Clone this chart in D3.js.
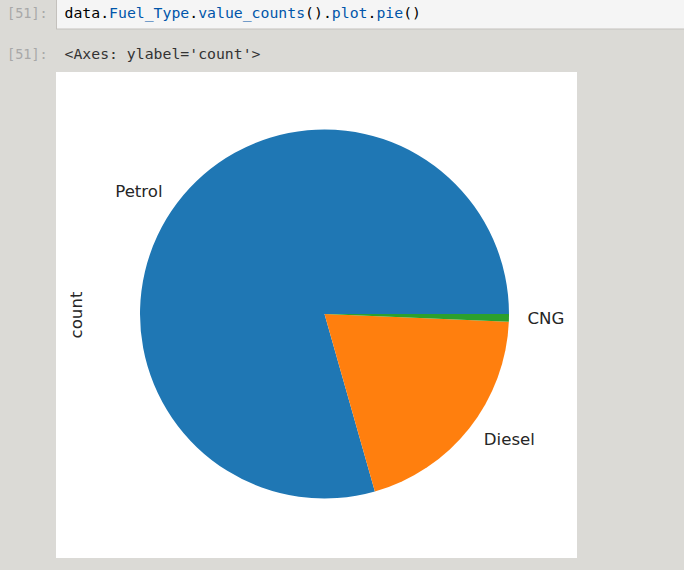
<!DOCTYPE html>
<html>
<head>
<meta charset="utf-8">
<script src="https://cdn.jsdelivr.net/npm/d3@7"></script>
<style>
  html, body { margin: 0; padding: 0; background: #dbdad6; }
  svg { display: block; }
</style>
</head>
<body>
<svg id="chart" width="684" height="570"></svg>
<script>
// ---- data ----
const categories = ["Petrol", "Diesel", "CNG"];
const counts = [239, 60, 2];
const colors = ["#1f77b4", "#ff7f0e", "#2ca02c"];
const ylabel = "count";
const codeTokens = [
  ["data", "#000"], [".", "#000"], ["Fuel_Type", "#0055aa"], [".", "#000"],
  ["value_counts", "#0055aa"], ["()", "#000"], [".", "#000"], ["plot", "#0055aa"],
  [".", "#000"], ["pie", "#0055aa"], ["()", "#000"]
];
const outputText = "<Axes: ylabel='count'>";
const promptText = "[51]:";

const svg = d3.select("#chart");

// notebook background
svg.append("rect").attr("x", 0).attr("y", 0).attr("width", 684).attr("height", 570).attr("fill", "#dbdad6");

// input cell
svg.append("rect").attr("x", 56.5).attr("y", -2).attr("width", 640).attr("height", 31)
  .attr("fill", "#f5f5f5").attr("stroke", "#c4c1bd").attr("stroke-width", 1);

const mono = "'DejaVu Sans Mono', 'Liberation Mono', monospace";
svg.append("text").attr("x", 7).attr("y", 18).attr("font-family", mono).attr("font-size", 13.5)
  .attr("fill", "#a8a8a8").text(promptText);
const code = svg.append("text").attr("x", 64.5).attr("y", 17.5).attr("font-family", mono)
  .attr("font-size", 14.8).attr("xml:space", "preserve");
codeTokens.forEach(([t, c]) => code.append("tspan").attr("fill", c).text(t));

svg.append("text").attr("x", 7).attr("y", 59).attr("font-family", mono).attr("font-size", 13.5)
  .attr("fill", "#a8a8a8").text(promptText);
svg.append("text").attr("x", 64.5).attr("y", 59).attr("font-family", mono).attr("font-size", 14.8)
  .attr("fill", "#333").text(outputText);

// figure area
svg.append("rect").attr("x", 56).attr("y", 72).attr("width", 521).attr("height", 486).attr("fill", "#fff");

const cx = 324.5, cy = 314, R = 184.5;
const g = svg.append("g").attr("transform", `translate(${cx},${cy})`);

const pie = d3.pie().sort(null).value(d => d)
  .startAngle(Math.PI / 2).endAngle(Math.PI / 2 - 2 * Math.PI);
const arcs = pie(counts);
const arc = d3.arc().innerRadius(0).outerRadius(R);
const color = d3.scaleOrdinal().domain(categories).range(colors);

g.selectAll("path").data(arcs).join("path")
  .attr("d", arc)
  .attr("fill", (d, i) => color(categories[i]));

const labelFont = "'DejaVu Sans', sans-serif";
g.selectAll("text.lbl").data(arcs).join("text")
  .attr("class", "lbl")
  .each(function (d, i) {
    const a = (d.startAngle + d.endAngle) / 2;
    const x = Math.sin(a) * R * 1.1, y = -Math.cos(a) * R * 1.1;
    d3.select(this).attr("x", x).attr("y", y)
      .attr("text-anchor", x < 0 ? "end" : "start")
      .attr("dominant-baseline", "central")
      .attr("font-family", labelFont).attr("font-size", 16.6).attr("fill", "#262626")
      .text(categories[i]);
  });

svg.append("text")
  .attr("transform", "translate(76,315) rotate(-90)")
  .attr("text-anchor", "middle").attr("dominant-baseline", "central")
  .attr("font-family", labelFont).attr("font-size", 16.6).attr("fill", "#262626")
  .text(ylabel);
</script>
</body>
</html>
